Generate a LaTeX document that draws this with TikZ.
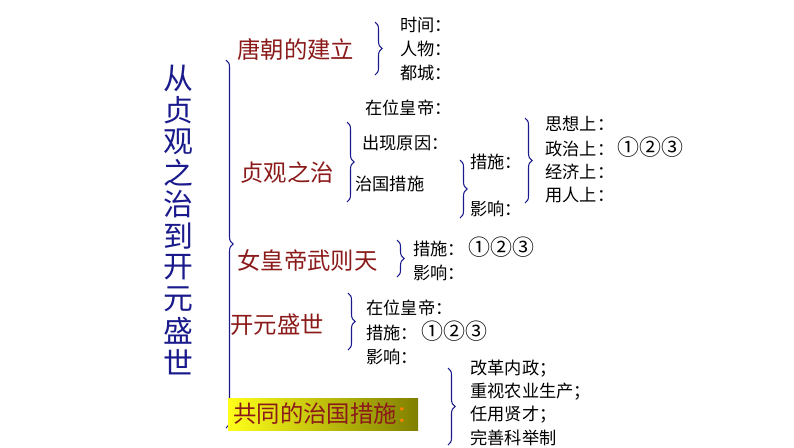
\documentclass[tikz,border=0pt]{standalone}
\usepackage{fontspec}
\setmainfont{Noto Sans CJK SC}
\usetikzlibrary{decorations.pathreplacing}
\definecolor{dred}{HTML}{8B1A1A}
\definecolor{dblue}{HTML}{1A1A8C}
\newcommand{\cir}[1]{{\fontsize{12.5}{12.5}\selectfont #1}}
\tikzset{x=0.02cm,y=-0.02cm,
 br/.style={draw=dblue,line width=0.6pt,decorate,decoration={brace,amplitude=4pt,mirror,raise=0pt}},
 t/.style={anchor=west,font=\fontsize{9.8}{9.8}\selectfont,inner sep=0pt},
 h/.style={anchor=west,font=\fontsize{13.3}{13.3}\selectfont,text=dred,inner sep=0pt}}
\begin{document}
\begin{tikzpicture}
\useasboundingbox (0,0) rectangle (794,447);
\foreach \c [count=\i] in {从,贞,观,之,治,到,开,元,盛,世}
  \node[text=dblue,font=\fontsize{17}{17}\selectfont,inner sep=0pt] (title\i) at (178,47+\i*31.5) {\c};
\draw[br] (226,428) -- (226,60) coordinate (bigtop);
\node[h] (a) at (237,50) {唐朝的建立};
\draw[br] (375,75) -- (375,22);
\node[t] (a1) at (400,25) {时间：};
\node[t] (a2) at (400,49) {人物：};
\node[t] (a3) at (400,73) {都城：};
\node[t] (b0) at (365,108) {在位皇帝：};
\node[h] (b) at (240,173) {贞观之治};
\draw[br] (347,202) -- (347,122);
\node[t] (b1) at (362,143) {出现原因：};
\node[t] (b2) at (355,184) {治国措施};
\draw[br] (460,218) -- (460,160);
\node[t] (b3) at (470,162) {措施：};
\node[t] (b4) at (470,209) {影响：};
\draw[br] (525,203) -- (525,118);
\node[t] (c1) at (545,124) {思想上：};
\node[t] (c2) at (545,147) {政治上：\,\cir{①②③}};
\node[t] (c3) at (545,172) {经济上：};
\node[t] (c4) at (545,195) {用人上：};
\node[h] (d) at (237,261) {女皇帝武则天};
\draw[br] (397,277) -- (397,240);
\node[t] (d1) at (413,247) {措施：\ \cir{①②③}};
\node[t] (d2) at (413,273) {影响：};
\node[h] (e) at (230,325) {开元盛世};
\draw[br] (348,350) -- (348,293);
\node[t] (e1) at (366,308) {在位皇帝：};
\node[t] (e2) at (366,331) {措施：\ \cir{①②③}};
\node[t] (e3) at (366,357) {影响：};
\shade[left color=yellow!90!white,right color=yellow!50!black] (228,398) rectangle (418,430);
\node[h] (f) at (233,414) {共同的治国措施\textcolor{orange}{：}};
\draw[br] (448,445) -- (448,368);
\node[t] (f1) at (470,369) {改革内政；};
\node[t] (f2) at (470,392) {重视农业生产；};
\node[t] (f3) at (470,415) {任用贤才；};
\node[t] (f4) at (470,438) {完善科举制};
\end{tikzpicture}
\end{document}
